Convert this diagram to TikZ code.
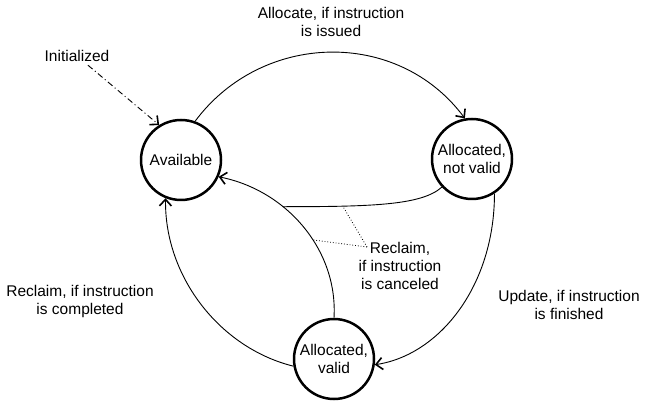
\documentclass[tikz,border=0pt]{standalone}
\usepackage{fontspec}
\setmainfont{Liberation Sans}
\usetikzlibrary{arrows.meta}

\begin{document}
\begin{tikzpicture}[
  x=1pt, y=-1pt,
  every node/.style={font=\fontsize{15.5}{18}\selectfont, align=center},
  state/.style={draw, circle, line width=2.5pt, minimum size=80pt, inner sep=0pt},
  trans/.style={line width=0.9pt, -{Straight Barb[length=6.5pt, width=12pt, line width=1.6pt]}},
  note/.style={line width=0.8pt, dotted}
]
  \useasboundingbox (0,0) rectangle (648,403);

  % States
  \node[state] (avail) at (181,160) {Available};
  \node[state] (allocNV) at (472,159) {Allocated,\\not valid};
  \node[state] (allocV) at (334,359) {Allocated,\\valid};

  % Labels
  \node (init) at (77,56) {Initialized};
  \node (allocLbl) at (331,22) {Allocate, if instruction\\is issued};
  \node (updateLbl) at (569,305) {Update, if instruction\\is finished};
  \node (completeLbl) at (80,301) {Reclaim, if instruction\\is completed};
  \node (cancelLbl) at (400,266) {Reclaim,\\if instruction\\is canceled};

  % Transitions
  \draw[trans, dash pattern=on 6pt off 3pt on 1pt off 3pt] (init) -- (avail.122);
  \draw[trans] (avail.70) .. controls +(67,-90) and +(-67,-90) .. (allocNV.100);
  \draw[trans] (allocNV.-57) .. controls +(0,92) and +(65,-10) .. (allocV.-8);
  \draw[trans] (allocV.190) .. controls +(-73,-18) and +(-1,79) .. (avail.-112);
  \draw[trans] (allocV.north) .. controls +(4,-67) and +(69,14) .. (avail.-24)
    coordinate[pos=0.42] (cancelB) coordinate[pos=0.65] (merge);
  \draw[line width=0.9pt] (allocNV.223) .. controls +(-20,18) and +(90,0) .. (merge)
    coordinate[pos=0.75] (cancelA);

  % Pointers to the canceled transitions
  \coordinate (cancelTip) at (367,247);
  \draw[note] (cancelTip) -- (cancelA);
  \draw[note] (cancelTip) -- (cancelB);

\end{tikzpicture}
\end{document}
